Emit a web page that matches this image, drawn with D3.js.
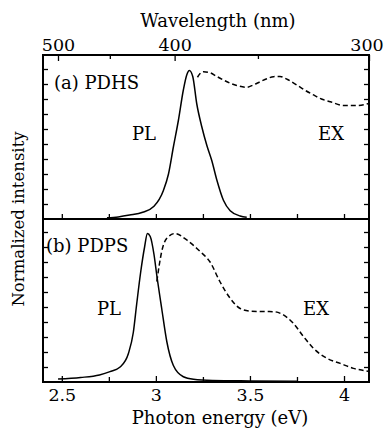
<!doctype html>
<html lang="en">
<head>
    <title>PL / EX spectra</title>
    <script src="https://d3js.org/d3.v7.min.js"></script>
    <style type="text/css">
        body { margin: 0; background: #fff; }
    </style>
</head>

<body>
</body>

<script type="text/javascript">

    var width  = 385;
    var height = 428;

    // (a) PDHS
    var plA_E = [2.74, 2.80, 2.86, 2.93, 2.99, 3.04, 3.067, 3.093, 3.12, 3.146, 3.164, 3.178, 3.196, 3.217, 3.244, 3.271, 3.297, 3.324, 3.359, 3.395, 3.448, 3.483];
    var plA_I = [0.008, 0.014, 0.026, 0.045, 0.085, 0.19, 0.30, 0.48, 0.66, 0.86, 0.96, 0.99, 0.95, 0.77, 0.615, 0.49, 0.39, 0.26, 0.125, 0.055, 0.02, 0.012];
    var exA_E = [3.221, 3.235, 3.253, 3.288, 3.324, 3.359, 3.395, 3.43, 3.483, 3.52, 3.554, 3.59, 3.625, 3.66, 3.70, 3.749, 3.79, 3.838, 3.88, 3.927, 3.997, 4.069, 4.133];
    var exA_I = [0.945, 0.97, 0.982, 0.975, 0.95, 0.927, 0.905, 0.89, 0.878, 0.895, 0.915, 0.935, 0.949, 0.95, 0.93, 0.893, 0.86, 0.827, 0.80, 0.782, 0.757, 0.757, 0.77];

    // (b) PDPS
    var plB_E = [2.48, 2.60, 2.70, 2.756, 2.81, 2.854, 2.88, 2.898, 2.92, 2.94, 2.955, 2.97, 2.99, 3.005, 3.031, 3.058, 3.093, 3.146, 3.2, 3.3, 3.5, 3.75];
    var plB_I = [0.02, 0.03, 0.047, 0.069, 0.10, 0.19, 0.33, 0.52, 0.74, 0.90, 0.99, 0.97, 0.85, 0.71, 0.49, 0.27, 0.11, 0.035, 0.018, 0.01, 0.007, 0.005];
    var exB_E = [3.005, 3.018, 3.031, 3.058, 3.102, 3.164, 3.235, 3.288, 3.34, 3.395, 3.448, 3.5, 3.56, 3.625, 3.678, 3.731, 3.785, 3.838, 3.909, 3.98, 4.05, 4.113, 4.133];
    var exB_I = [0.67, 0.78, 0.87, 0.958, 0.99, 0.947, 0.87, 0.80, 0.67, 0.558, 0.49, 0.473, 0.47, 0.469, 0.447, 0.391, 0.302, 0.224, 0.158, 0.124, 0.091, 0.075, 0.07];

    var energyMajor = [2.5, 3, 3.5, 4];
    var energyMinor = [2.75, 3.25, 3.75];
    var waveMajor = [500, 400, 300];
    var waveMinor = [450, 350];
    var yTicks = [0.1, 0.2, 0.3, 0.4, 0.5, 0.6, 0.7, 0.8, 0.9, 1.0];

    var hc = 1239.84;
    var serif = "DejaVu Serif";

    var pLeft = 43, pRight = 369, pTop = 55, pMid = 219, pBottom = 382;

    var x = d3.scaleLinear().domain([2.4, hc / 300]).range([pLeft, pRight]);
    var yA = d3.scaleLinear().domain([0, 1]).range([pMid, 69]);
    var yB = d3.scaleLinear().domain([0, 1]).range([pBottom, 232]);

    var svg = d3.select("body")
        .append("svg")
        .attr("width", width)
        .attr("height", height)
        .style("background", "#fff");

    function zip(E, I) { return E.map((e, i) => [e, I[i]]); }

    function curve(E, I, y, dashed) {
        var line = d3.line()
            .x(d => x(d[0]))
            .y(d => y(d[1]))
            .curve(d3.curveMonotoneX);
        svg.append("path")
            .datum(zip(E, I))
            .attr("d", line)
            .attr("fill", "none")
            .attr("stroke", "#000")
            .attr("stroke-width", 1.5)
            .attr("stroke-dasharray", dashed ? "5,3" : null);
    }

    curve(plA_E, plA_I, yA, false);
    curve(exA_E, exA_I, yA, true);
    curve(plB_E, plB_I, yB, false);
    curve(exB_E, exB_I, yB, true);

    function styleAxis(g, size) {
        g.select(".domain").remove();
        g.selectAll("line").attr("stroke", "#000").attr("stroke-width", 1.3);
        g.attr("font-size", size).attr("font-family", serif);
        g.selectAll("text").attr("fill", "#000").attr("font-family", serif).attr("font-size", size);
    }

    // bottom energy axis
    svg.append("g").attr("transform", "translate(0," + pBottom + ")")
        .call(d3.axisBottom(x).tickValues(energyMajor).tickSize(-6).tickPadding(7).tickFormat(d3.format("~g")))
        .call(g => styleAxis(g, 17.5));
    svg.append("g").attr("transform", "translate(0," + pBottom + ")")
        .call(d3.axisBottom(x).tickValues(energyMinor).tickSize(-5).tickFormat(""))
        .call(g => styleAxis(g, 17.5));

    // panel a bottom ticks
    svg.append("g").attr("transform", "translate(0," + pMid + ")")
        .call(d3.axisBottom(x).tickValues(energyMajor.concat(energyMinor)).tickSize(-5).tickFormat(""))
        .call(g => styleAxis(g, 17.5));

    // top wavelength axis
    svg.append("g").attr("transform", "translate(0," + pTop + ")")
        .call(d3.axisTop(x).tickValues(waveMajor.map(l => hc / l)).tickSize(-6).tickPadding(4)
            .tickFormat((d, i) => waveMajor[i]))
        .call(g => styleAxis(g, 17.5))
        .call(g => g.selectAll("text").filter((d, i) => i === 2).attr("dx", -2.5));
    svg.append("g").attr("transform", "translate(0," + pTop + ")")
        .call(d3.axisTop(x).tickValues(waveMinor.map(l => hc / l)).tickSize(-4).tickFormat(""))
        .call(g => styleAxis(g, 17.5));

    // y ticks on both panels, both sides
    [yA, yB].forEach(function (y) {
        svg.append("g").attr("transform", "translate(" + pLeft + ",0)")
            .call(d3.axisLeft(y).tickValues(yTicks).tickSize(-5).tickFormat(""))
            .call(g => styleAxis(g, 17.5));
        svg.append("g").attr("transform", "translate(" + pRight + ",0)")
            .call(d3.axisRight(y).tickValues(yTicks).tickSize(-5).tickFormat(""))
            .call(g => styleAxis(g, 17.5));
    });

    // frame
    svg.append("rect")
        .attr("x", pLeft).attr("y", pTop)
        .attr("width", pRight - pLeft).attr("height", pBottom - pTop)
        .attr("fill", "none").attr("stroke", "#000").attr("stroke-width", 2);
    svg.append("line")
        .attr("x1", pLeft).attr("x2", pRight).attr("y1", pMid).attr("y2", pMid)
        .attr("stroke", "#000").attr("stroke-width", 2);

    // titles
    svg.append("text").attr("x", 218).attr("y", 27).attr("text-anchor", "middle")
        .attr("font-family", serif).attr("font-size", 18).text("Wavelength (nm)");
    svg.append("text").attr("x", 220).attr("y", 424).attr("text-anchor", "middle")
        .attr("font-family", serif).attr("font-size", 18).text("Photon energy (eV)");
    svg.append("text").attr("transform", "translate(24,219) rotate(-90)").attr("text-anchor", "middle")
        .attr("font-family", serif).attr("font-size", 16.5).text("Normalized intensity");

    // panel labels
    var labels = [
        { t: "(a) PDHS", x: 54, y: 89 },
        { t: "PL", x: 132, y: 140 },
        { t: "EX", x: 318, y: 140 },
        { t: "(b) PDPS", x: 46, y: 252 },
        { t: "PL", x: 97, y: 315 },
        { t: "EX", x: 303, y: 315 }
    ];
    svg.selectAll("text.lab").data(labels).enter()
        .append("text").attr("class", "lab")
        .attr("x", d => d.x).attr("y", d => d.y)
        .attr("font-family", serif)
        .attr("font-size", 18)
        .text(d => d.t);

</script>

</html>
